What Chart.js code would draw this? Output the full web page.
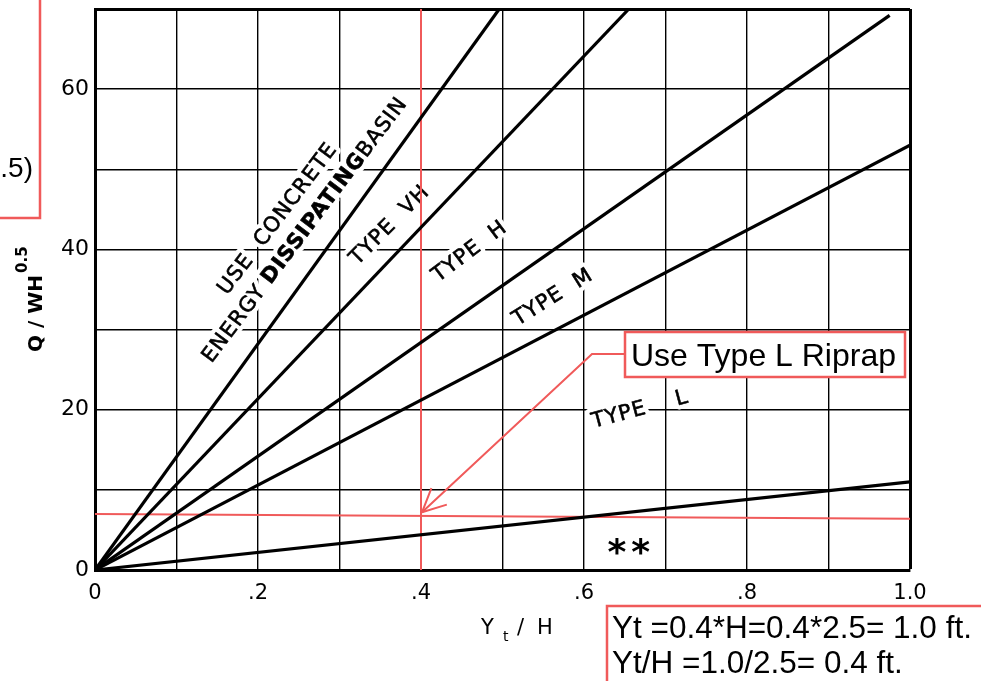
<!DOCTYPE html>
<html>
<head>
<meta charset="utf-8">
<script src="https://cdn.jsdelivr.net/npm/chart.js@4.4.1/dist/chart.umd.min.js"></script>
<style>
  html, body { margin: 0; padding: 0; background: #fff; }
</style>
</head>
<body>
<canvas id="riprapChart" width="981" height="681"></canvas>
<script>
// Riprap type selection: Q / WH^0.5 against Yt / H
const xTickLabels = ['0', '', '.2', '', '.4', '', '.6', '', '.8', '', '1.0'];
const yTickLabels = { 0: '0', 20: '20', 40: '40', 60: '60' };

// zone boundaries, origin to where each leaves the grid
const basinLine = [{ x: 0, y: 0 }, { x: 0.496, y: 70 }];
const vhLine = [{ x: 0, y: 0 }, { x: 0.655, y: 70 }];
const hLine = [{ x: 0, y: 0 }, { x: 0.975, y: 69.2 }];
const mLine = [{ x: 0, y: 0 }, { x: 1.0, y: 53 }];
const lLine = [{ x: 0, y: 0 }, { x: 1.0, y: 11 }];

// worked example (red)
const exampleYt = [{ x: 0.4, y: 0 }, { x: 0.4, y: 70 }];
const exampleQ = [{ x: 0, y: 7.0 }, { x: 1.0, y: 6.4 }];
const examplePoint = { x: 0.4, y: 7.2 };

const RED = '#f05a5a';
const LETTER = '"DejaVu Sans", sans-serif';
const ARIAL = '"Liberation Sans", Arial, sans-serif';

// zone names written along the lines
const zoneLabels = [
  { parts: [['USE  CONCRETE', false]], x: 0.2245, y: 43.8, angle: -53 },
  { parts: [['ENERGY ', false], ['DISSIPATING', true], ['BASIN', false]], x: 0.258, y: 42.4, angle: -53 },
  { parts: [['TYPE  VH', false]], x: 0.362, y: 43.0, angle: -45 },
  { parts: [['TYPE  H', false]], x: 0.46, y: 39.7, angle: -37 },
  { parts: [['TYPE  M', false]], x: 0.562, y: 34.0, angle: -32 },
  { parts: [['TYPE    L', false]], x: 0.669, y: 20.0, angle: -15 }
];

function lineSet(data, color, width) {
  return { data, showLine: true, borderColor: color, borderWidth: width, pointRadius: 0, fill: false, tension: 0 };
}

function drawRotated(ctx, item, px, py) {
  ctx.save();
  ctx.translate(px, py);
  ctx.rotate(item.angle * Math.PI / 180);
  ctx.letterSpacing = '1px';
  ctx.textBaseline = 'middle';
  ctx.textAlign = 'left';
  let total = 0;
  const widths = item.parts.map(([t, bold]) => {
    ctx.font = (bold ? 'bold ' : '') + '21px ' + LETTER;
    const w = ctx.measureText(t).width;
    total += w;
    return w;
  });
  let x = -total / 2;
  item.parts.forEach(([t, bold], i) => {
    ctx.font = (bold ? 'bold ' : '') + '21px ' + LETTER;
    ctx.strokeStyle = '#fff';
    ctx.lineWidth = 9;
    ctx.lineJoin = 'round';
    ctx.strokeText(t, x, 0);
    ctx.fillStyle = '#000';
    ctx.lineWidth = 0.6;
    ctx.strokeStyle = '#000';
    ctx.fillText(t, x, 0);
    ctx.strokeText(t, x, 0);
    x += widths[i];
  });
  ctx.restore();
}

const annotations = {
  id: 'annotations',
  beforeDatasetsDraw(chart) {
    const { ctx, scales: { x, y } } = chart;
    zoneLabels.forEach(l => drawRotated(ctx, l, x.getPixelForValue(l.x), y.getPixelForValue(l.y)));
    // ** marker
    ctx.save();
    ctx.font = 'bold 36px ' + LETTER;
    ctx.letterSpacing = '5px';
    ctx.textAlign = 'center';
    ctx.textBaseline = 'alphabetic';
    ctx.fillStyle = '#000';
    ctx.fillText('**', x.getPixelForValue(0.658), y.getPixelForValue(3.24) + 20);
    ctx.restore();
  },
  afterDraw(chart) {
    const { ctx, scales: { x, y } } = chart;
    ctx.save();

    // axis titles
    ctx.fillStyle = '#000';
    ctx.textBaseline = 'alphabetic';
    ctx.textAlign = 'left';
    ctx.save();
    ctx.translate(42, 352);
    ctx.rotate(-Math.PI / 2);
    ctx.font = 'bold 20px ' + LETTER;
    ctx.fillText('Q / WH', 0, 0);
    const qw = ctx.measureText('Q / WH').width;
    ctx.font = 'bold 15px ' + LETTER;
    ctx.fillText('0.5', qw + 2, -15);
    ctx.restore();

    ctx.font = '21px ' + LETTER;
    ctx.fillText('Y', 481, 634);
    ctx.font = '14px ' + LETTER;
    ctx.fillText('t', 503, 641);
    ctx.font = '21px ' + LETTER;
    ctx.fillText('/', 517, 634);
    ctx.fillText('H', 537, 634);

    // connector from callout to the example point
    const tx = x.getPixelForValue(examplePoint.x) + 1;
    const ty = y.getPixelForValue(examplePoint.y);
    ctx.strokeStyle = RED;
    ctx.lineWidth = 2;
    ctx.beginPath();
    ctx.moveTo(625, 354);
    ctx.lineTo(592, 354);
    ctx.lineTo(tx, ty);
    ctx.stroke();
    const a = Math.atan2(354 - ty, 592 - tx);
    ctx.beginPath();
    [a - 0.45, a + 0.45].forEach(b => {
      ctx.moveTo(tx, ty);
      ctx.lineTo(tx + 26 * Math.cos(b), ty + 26 * Math.sin(b));
    });
    ctx.stroke();

    // callout box
    ctx.fillStyle = '#fff';
    ctx.fillRect(625, 332, 280, 45);
    ctx.lineWidth = 2.5;
    ctx.strokeRect(625, 332, 280, 45);
    ctx.fillStyle = '#000';
    ctx.font = '32px ' + ARIAL;
    ctx.fillText('Use Type L Riprap', 631, 366);

    // calculation box
    ctx.fillStyle = '#fff';
    ctx.fillRect(607, 606, 400, 100);
    ctx.strokeRect(607, 606, 400, 100);
    ctx.fillStyle = '#000';
    ctx.font = '31.5px ' + ARIAL;
    ctx.fillText('Yt =0.4*H=0.4*2.5= 1.0 ft.', 612, 638);
    ctx.fillText('Yt/H =1.0/2.5= 0.4 ft.', 612, 673);

    // cut-off box at the top left
    ctx.beginPath();
    ctx.moveTo(40, 0);
    ctx.lineTo(40, 218);
    ctx.lineTo(-5, 218);
    ctx.stroke();
    ctx.textAlign = 'right';
    ctx.font = '28px ' + ARIAL;
    ctx.fillText('.5)', 33, 177);

    ctx.restore();
  }
};

const ctx = document.getElementById('riprapChart').getContext('2d');
new Chart(ctx, {
  type: 'scatter',
  data: {
    datasets: [
      lineSet(basinLine, '#000', 3.2),
      lineSet(vhLine, '#000', 3.2),
      lineSet(hLine, '#000', 3.2),
      lineSet(mLine, '#000', 3.2),
      lineSet(lLine, '#000', 3.2),
      lineSet(exampleYt, RED, 2),
      lineSet(exampleQ, RED, 2)
    ]
  },
  options: {
    responsive: false,
    animation: false,
    events: [],
    layout: { padding: { left: 0, top: 9, right: 71, bottom: 71 } },
    plugins: { legend: { display: false }, tooltip: { enabled: false } },
    scales: {
      x: {
        type: 'linear',
        min: 0,
        max: 1,
        ticks: {
          stepSize: 0.1,
          autoSkip: false,
          maxRotation: 0,
          padding: 11,
          color: '#000',
          font: { family: LETTER, size: 21 },
          callback: (v, i) => xTickLabels[i] ?? ''
        },
        grid: { color: '#000', lineWidth: c => (c.index === 10 ? 3 : 1.4), drawTicks: false },
        border: { color: '#000', width: 3 },
        afterFit: s => { s.height = 40; s.paddingLeft = 0; s.paddingRight = 0; }
      },
      y: {
        type: 'linear',
        min: 0,
        max: 70,
        ticks: {
          stepSize: 10,
          padding: 6,
          color: '#000',
          font: { family: LETTER, size: 22 },
          callback: v => yTickLabels[v] ?? ''
        },
        grid: { color: '#000', lineWidth: c => (c.tick && c.tick.value === 70 ? 3 : 1.4), drawTicks: false },
        border: { color: '#000', width: 3 },
        afterFit: s => { s.width = 95; s.paddingTop = 0; s.paddingBottom = 0; }
      }
    }
  },
  plugins: [annotations]
});
</script>
</body>
</html>
